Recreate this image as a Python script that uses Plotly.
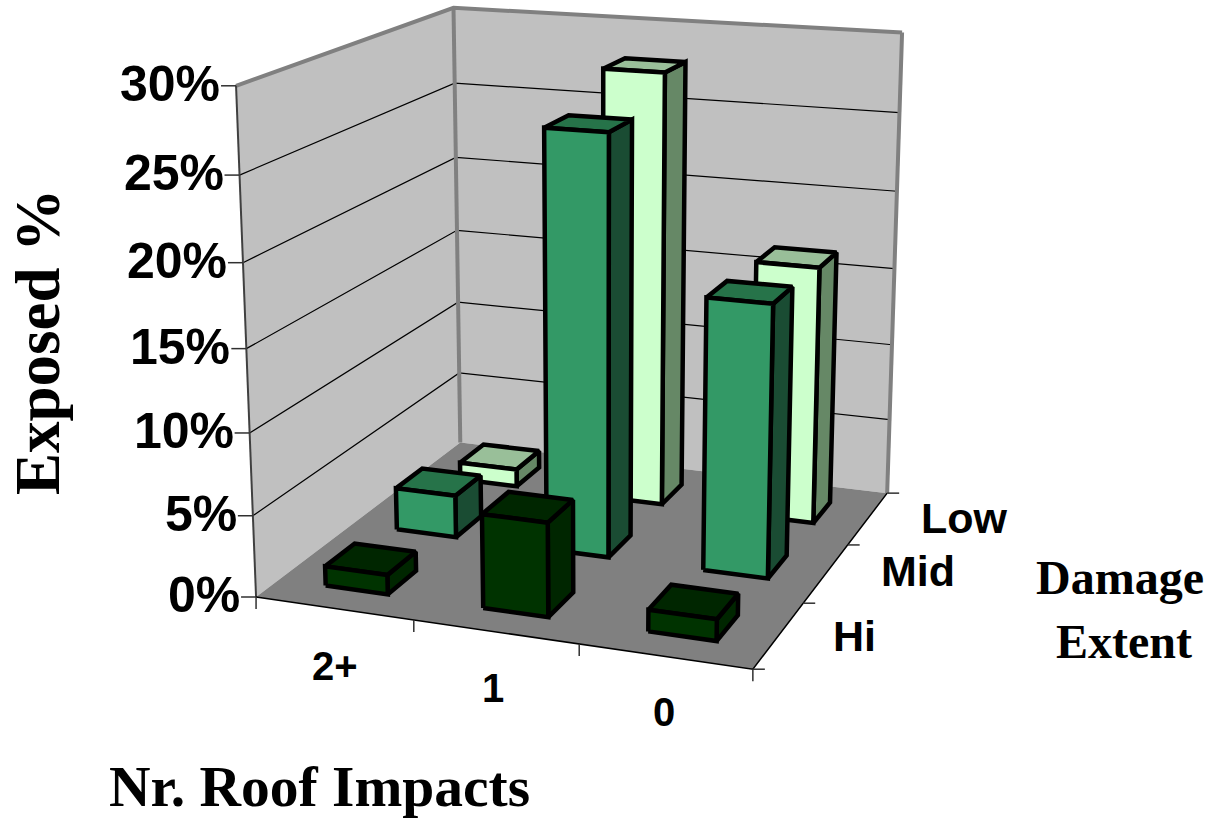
import numpy as np
import plotly.graph_objects as go

roof_impacts = ["2+", "1", "0"]
damage_extent = ["Hi", "Mid", "Low"]
exposed_hi = [1.2, 5.7, 1.3]
exposed_mid = [2.7, 26.1, 16.8]
exposed_low = [1.15, 27.9, 16.5]
z_ticks = [0, 5, 10, 15, 20, 25, 30]
z_max = 30

# Box corners (x, y, z as fractions of the box) and where the reference shows them
box_world = [(0,0,0),(1,0,0),(1,1,0),(0,1,0),(0,0,1),(0,1,1),(1,1,1)]
box_image = [(255,597),(752,670),(887,492),(462,443),(238,85),(451,8),(903,33)]

A = []
for (X,Y,Z),(u,v) in zip(box_world, box_image):
    A.append([X,Y,Z,1,0,0,0,0,-u*X,-u*Y,-u*Z,-u])
    A.append([0,0,0,0,X,Y,Z,1,-v*X,-v*Y,-v*Z,-v])
P = np.linalg.svd(np.array(A,float))[2][-1].reshape(3,4)

def proj(x,y,z):
    h = P @ np.array([x,y,z,1.0])
    return float(h[0]/h[2]), float(h[1]/h[2])

fig = go.Figure()

def poly(points, fill=None, line=None, width=0):
    pts = [proj(*p) for p in points]
    if fill is not None:
        pts = pts + [pts[0]]
    fig.add_trace(go.Scatter(
        x=[p[0] for p in pts], y=[p[1] for p in pts], mode="lines",
        fill="toself" if fill else None, fillcolor=fill,
        line=dict(color=line or "rgba(0,0,0,0)", width=width),
        hoverinfo="skip", showlegend=False))

# walls and floor
poly([(0,0,0),(0,1,0),(0,1,1),(0,0,1)], "#C0C0C0")
poly([(0,1,0),(1,1,0),(1,1,1),(0,1,1)], "#C0C0C0")
poly([(0,0,0),(1,0,0),(1,1,0),(0,1,0)], "#808080")

# grid lines
for t in z_ticks[1:-1]:
    z = t/z_max
    poly([(0,0,z),(0,1,z),(1,1,z)], None, "#000000", 1.2)

# wall edges
poly([(0,0,1),(0,1,1),(1,1,1)], None, "#808080", 4)
poly([(0,1,0),(0,1,1)], None, "#808080", 4)
poly([(1,1,0),(1,1,1)], None, "#808080", 4)
poly([(0,0,0),(0,0,1)], None, "#404040", 2)
poly([(0,0,0),(1,0,0),(1,1,0)], None, "#000000", 1.5)

# tick marks
for t in z_ticks:
    z = t/z_max
    x0, y0 = proj(0,0,z)
    fig.add_trace(go.Scatter(x=[x0-15,x0], y=[y0,y0], mode="lines",
        line=dict(color="#303030", width=1.5), hoverinfo="skip", showlegend=False))
for i in range(4):
    x0, y0 = proj(i/3,0,0)
    fig.add_trace(go.Scatter(x=[x0,x0], y=[y0,y0+12], mode="lines",
        line=dict(color="#303030", width=1.5), hoverinfo="skip", showlegend=False))
for j in range(4):
    x0, y0 = proj(1,j/3,0)
    fig.add_trace(go.Scatter(x=[x0,x0+12], y=[y0,y0], mode="lines",
        line=dict(color="#303030", width=1.5), hoverinfo="skip", showlegend=False))

# bars: back row first, left to right
series = [
    (exposed_low, 2, "#CCFFCC", "#99BF99", "#668866"),
    (exposed_mid, 1, "#339966", "#267349", "#1A4C33"),
    (exposed_hi, 0, "#003300", "#002600", "#002600"),
]
bw = 0.4/3
for vals, j, front, top, side in series:
    for i, v in enumerate(vals):
        cx, cy = (i+0.5)/3, (j+0.5)/3
        x0, x1, y0, y1 = cx-bw/2, cx+bw/2, cy-bw/2, cy+bw/2
        z = v/z_max
        poly([(x1,y0,0),(x1,y1,0),(x1,y1,z),(x1,y0,z)], side, "#000000", 4.5)
        poly([(x0,y0,z),(x1,y0,z),(x1,y1,z),(x0,y1,z)], top, "#000000", 4.5)
        poly([(x0,y0,0),(x1,y0,0),(x1,y0,z),(x0,y0,z)], front, "#000000", 4.5)

bold = "Liberation Sans"
serif = "Liberation Serif"
def label(x, y, s, size, fam, anchor="center", angle=0):
    fig.add_annotation(x=x, y=y, xref="x", yref="y", text=f"<b>{s}</b>", showarrow=False,
        xanchor=anchor, yanchor="middle", textangle=angle,
        font=dict(family=fam, size=size, color="#000000"))

for t in z_ticks:
    x0, y0 = proj(0,0,t/z_max)
    label(x0-14, y0-2, f"{t}%", 50, bold, "right")
for name, (lx, ly) in zip(roof_impacts, [(335,666),(493,688),(664,712)]):
    label(lx, ly, name, 40, bold)
for name, (lx, ly) in zip(damage_extent, [(854,636),(918,571),(964,518)]):
    label(lx, ly, name, 43, bold)
label(38, 342, "Exposed %", 63, serif, angle=-90)
label(319, 786, "Nr. Roof Impacts", 57.5, serif)
label(1120, 577, "Damage", 48, serif)
label(1124, 641, "Extent", 48, serif)

fig.update_layout(
    width=1211, height=820, margin=dict(l=0,r=0,t=0,b=0),
    paper_bgcolor="#FFFFFF", plot_bgcolor="#FFFFFF", showlegend=False,
    xaxis=dict(visible=False, range=[0,1211], fixedrange=True),
    yaxis=dict(visible=False, range=[820,0], fixedrange=True),
)
fig.write_html("out.html", post_script="document.body.style.margin='0';",
               config={"displayModeBar": False})
